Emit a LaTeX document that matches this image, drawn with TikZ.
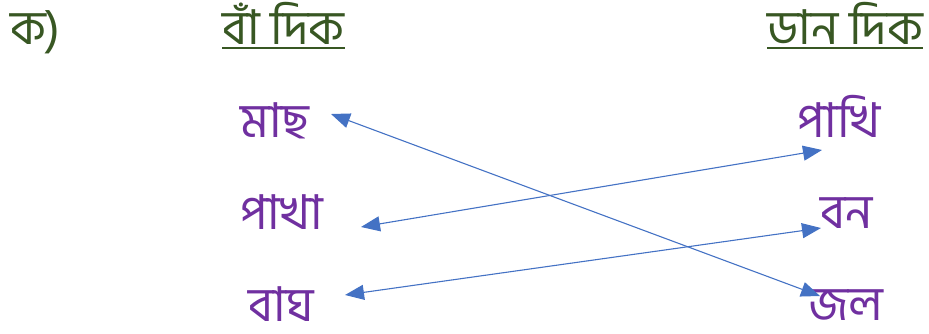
\documentclass[tikz,border=0pt]{standalone}
\usepackage{fontspec}
\newfontfamily\bn[Script=Bengali]{Hind Siliguri}
\usetikzlibrary{arrows.meta}
\definecolor{hgreen}{HTML}{385723}
\definecolor{wpurple}{HTML}{7030A0}
\definecolor{lblue}{HTML}{4472C4}
\tikzset{
  head/.style={text=hgreen, inner sep=0pt, anchor=base west, font=\bn\fontsize{48}{52}\selectfont},
  word/.style={text=wpurple, inner sep=0pt, anchor=base west, font=\bn\fontsize{48}{52}\selectfont},
  link/.style={lblue, line width=1.1pt, {Triangle[length=19pt,width=15pt]}-{Triangle[length=19pt,width=15pt]}}
}
\begin{document}
\begin{tikzpicture}[x=1pt,y=-1pt]
\useasboundingbox (0,0) rectangle (929,333);
\node[head] (k) at (10,44) {ক)};
\node[head] (bam) at (222,44) {বাঁ দিক};
\node[head] (dan) at (767,44) {ডান দিক};
\draw[hgreen, line width=1.8pt] ([yshift=-4pt]bam.base west) -- ([yshift=-4pt]bam.base east);
\draw[hgreen, line width=1.8pt] ([yshift=-4pt]dan.base west) -- ([yshift=-4pt]dan.base east);
\node[word] (mach) at (240,137) {মাছ};
\node[word] (pakha) at (240,229) {পাখা};
\node[word] (bagh) at (248,321) {বাঘ};
\node[word] (pakhi) at (797,137) {পাখি};
\node[word] (bon) at (820,228) {বন};
\node[word] (jol) at (808,320) {জল};
\coordinate (m1) at (331,114);
\coordinate (j1) at (820,296);
\coordinate (p1) at (361,227);
\coordinate (q1) at (822,150);
\coordinate (b1) at (345,295);
\coordinate (n1) at (821,228);
\draw[link] (m1) -- (j1);
\draw[link] (p1) -- (q1);
\draw[link] (b1) -- (n1);
\end{tikzpicture}
\end{document}
